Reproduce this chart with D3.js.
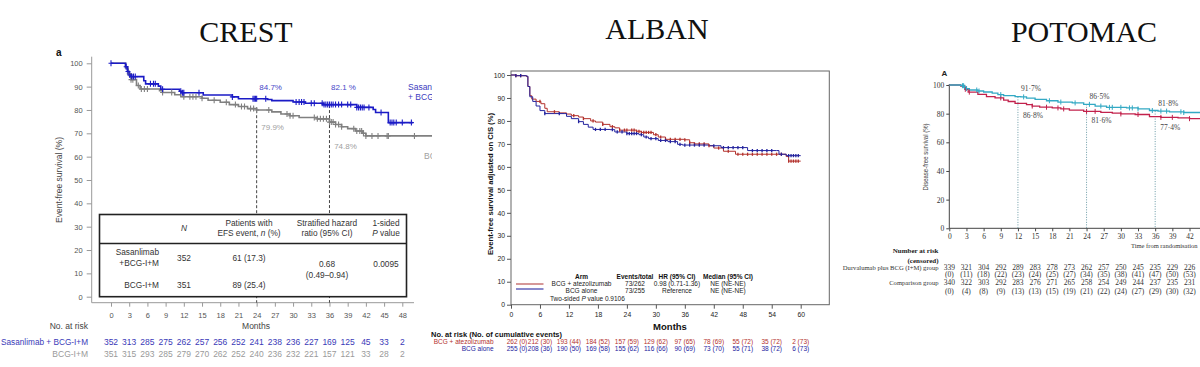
<!DOCTYPE html>
<html><head><meta charset="utf-8">
<script src="https://cdn.jsdelivr.net/npm/d3@7"></script>
<style>body{margin:0;background:#fff;}svg{display:block;}</style>
</head><body>
<svg id="c" width="1200" height="367"></svg>
<script>
// ---------------- DATA ----------------
const titles = ["CREST", "ALBAN", "POTOMAC"];

// CREST
const crestXTicks = [0,3,6,9,12,15,18,21,24,27,30,33,36,39,42,45,48];
const crestYTicks = [0,10,20,30,40,50,60,70,80,90,100];
const crestSas = [[0,100],[2.4,98.5],[2.7,96.5],[3.0,95],[3.4,94.3],[5.4,92.5],[5.7,91.2],[7.8,90.2],[8.2,88.9],[11.3,88.0],[11.6,87.4],[15.2,86.4],[20,85.6],[21,84.8],[25.8,84.5],[26.5,84.0],[30,83.4],[32,82.9],[35,82.3],[40.5,81.1],[43.2,80.2],[43.6,78.9],[45.7,74.6],[49.7,74.6]];
const crestBcg = [[0,100],[2.4,98],[2.8,95.5],[3.3,93],[4.2,90.5],[4.8,89],[8,88.3],[8.5,87.5],[10.5,86.5],[11.5,85.7],[15,85],[16,84.2],[18,83.3],[19.5,82.3],[21,81.5],[22.5,80.6],[24,80.0],[26.5,79.2],[28,78.3],[29.5,77.5],[31,76.8],[34,76.2],[36,74.8],[37,73.8],[38,72.8],[39,72],[40.3,71],[41.5,70],[42,68.9],[54,68.9]];
const crestSasCensor = [0,2.5,2.8,3.1,3.4,3.7,4,6.5,7,7.3,8.5,11.5,11.8,12,14.5,20,23.4,23.6,23.8,24,25.5,30.5,31,31.4,31.8,33,33.5,34.8,35.1,35.4,35.7,36,36.3,36.6,37,37.5,38,39,39.5,40.5,40.8,41.1,41.4,41.7,42.5,44.5,46,46.3,46.6,47,48,49.5];
const crestBcgCensor = [3,3.3,3.6,4.5,5,5.5,6,8.5,10,12,13,13.5,14,15,17,19,20.5,21.5,22,23,23.5,24,26,29,29.5,30,33.5,34,34.5,35,35.5,36,36.3,36.6,37,37.5,38,40,40.5,41,41.3,41.6,42,43,44,45.5,45.7,50];
const crestLandmarks = [24, 36];
const crestLandmarkTop = [79.9, 82.1];
const crestSasLabels = ["84.7%", "82.1 %"];
const crestBcgLabels = ["79.9%", "74.8%"];
const crestRiskSas = [352,313,285,275,262,257,256,252,241,238,236,227,169,125,45,33,2];
const crestRiskBcg = [351,315,293,285,279,270,262,252,240,236,232,221,157,121,33,28,2];

// ALBAN
const albanXTicks = [0,6,12,18,24,30,36,42,48,54,60];
const albanYTicks = [0,10,20,30,40,50,60,70,80,90,100];
const albanAtezo = [[0,100],[1,99.7],[3.2,99.3],[3.5,95],[3.9,91],[4.3,89.5],[5.2,88.5],[6.2,87.5],[7,85.5],[7.5,84],[10,83.5],[11.5,83],[12.5,82.3],[14,81.7],[15,81],[16.5,80],[17.5,79.5],[19,78.5],[20.5,77.5],[21.5,77],[22.5,76],[26,75.5],[27,75],[29.5,74],[30.5,73],[32,72],[36,71.8],[37,70.5],[38,70],[41,69.2],[42,68.2],[44,66.8],[46.5,65.5],[56.5,65.5],[57,64.5],[57.5,62.5],[60,62.5]];
const albanBcg = [[0,100],[1,99.7],[3.2,99.5],[3.5,95],[3.9,90.5],[4.5,88.5],[5.2,86.5],[6,84.5],[7,83.2],[11,83.2],[11.5,82],[12.5,81],[14,79.7],[15,78.5],[16,77.3],[17,76.3],[20.5,76.2],[21.5,75.2],[24,74.5],[26.5,74],[27.5,73],[28.5,72.3],[30.5,71.5],[32.5,71],[34.5,69.8],[35.5,69.5],[41,69.2],[43.5,68.4],[49,67.1],[55,67.1],[55.5,65.5],[57,64.9],[60,64.9]];
const albanAtezoCensor = [1,2,6,9,13,15,17,19,21,22.5,23.5,24,25,25.5,26,26.5,27,27.5,28,28.5,29,30,31,32,33,34,35,36,37,38,39,40,41,43,45,47,48,49,50,51,52,53,54,55,56,57.5,58,58.5,59,59.5];
const albanBcgCensor = [1,2,7,10,14,17.5,18.5,19.5,21,22,23,24,24.5,25,25.5,26,27,28,29,30,31,32,33,34,35,36,37,38,39,40,42,44,45,46,47,48,50,51,52,53,54,56,57.5,58,58.5,59,59.5];
const albanRiskAtezo = ["262 (0)","212 (30)","193 (44)","184 (52)","157 (59)","129 (62)","97 (65)","78 (69)","55 (72)","35 (72)","2 (73)"];
const albanRiskBcg = ["255 (0)","208 (36)","190 (50)","169 (58)","155 (62)","116 (66)","90 (69)","73 (70)","55 (71)","38 (72)","6 (73)"];
const albanLegendHead = ["Arm","Events/total","HR (95% CI)","Median (95% CI)"];
const albanLegendAtezo = ["BCG + atezolizumab","73/262","0.98 (0.71-1.36)","NE (NE-NE)"];
const albanLegendBcg = ["BCG alone","73/255","Reference","NE (NE-NE)"];

// POTOMAC
const potoXTicks = [0,3,6,9,12,15,18,21,24,27,30,33,36,39,42];
const potoYTicks = [0,20,40,60,80,100];
const potoDurva = [[0,100],[2,99.5],[2.6,98.5],[3,97.5],[3.5,96.5],[5,95.8],[6,95.1],[7.5,94.3],[8.5,93.3],[9.5,92.6],[11.5,91.9],[12.5,91.7],[13.5,90.8],[15,90],[17,89],[19,88.1],[21.5,87.5],[23.5,86.5],[25.5,85.3],[27.5,84.4],[31,84],[33,83.3],[35,82.2],[36.5,81.8],[38.5,81.3],[41,80.8],[44,80.7]];
const potoComp = [[0,100],[2,99.3],[2.7,97],[3.3,95],[5,93.5],[6.5,91.9],[8,91],[9.5,89.5],[10.3,88.5],[11.5,87.2],[13.5,86.3],[14.5,85.3],[15.8,84.5],[18,84],[19.5,83.3],[21,82.5],[23.5,81.6],[26.5,80.9],[28.5,80.4],[30,79.8],[32.5,79.4],[35,77.9],[37,77.4],[40,77],[42,76.5],[44,76.1]];
const potoDurvaCensor = [2.3,2.5,2.7,3,4.8,5.2,9,13,17.5,19.5,22,24.5,26.5,28,28.5,30,31.5,32,33,35.5,37,38,40.5,41];
const potoCompCensor = [2.8,3.5,9,14.5,17,19,20,24,25.5,30,33,37,39,42];
const potoLandmarks = [12, 24, 36];
const potoDurvaLabels = ["91·7%", "86·5%", "81·8%"];
const potoCompLabels = ["86·8%", "81·6%", "77·4%"];
const potoLandmarkTop = [91.7, 86.5, 81.8];
const potoRiskDurva = [339,321,304,292,289,283,278,273,262,257,250,245,235,229,226];
const potoCensDurva = [0,11,18,22,23,24,25,27,34,35,38,41,47,50,53];
const potoRiskComp = [340,322,303,292,283,276,271,265,258,254,249,244,237,235,231];
const potoCensComp = [0,4,8,9,13,13,15,19,21,22,24,27,29,30,32];

// ---------------- DRAW ----------------
const svg = d3.select("#c");
const sans = "'Liberation Sans', Arial, Helvetica, sans-serif";
const serif = "'Liberation Serif', 'Times New Roman', serif";
const defs = svg.append("defs");

function stepAt(data, t) { let v = data[0][1]; for (const d of data) { if (d[0] <= t) v = d[1]; else break; } return v; }
function txt(g, x, y, s, o = {}) {
  const t = g.append("text").attr("x", x).attr("y", y).text(s)
    .attr("font-family", o.ff || sans).attr("font-size", o.fs || 8)
    .attr("fill", o.fill || "#333").attr("text-anchor", o.anchor || "start")
    .attr("dominant-baseline", "middle");
  if (o.fw) t.attr("font-weight", o.fw);
  if (o.fst) t.attr("font-style", o.fst);
  if (o.tl) t.attr("textLength", o.tl).attr("lengthAdjust", "spacingAndGlyphs");
  if (o.rot) t.attr("transform", `rotate(${o.rot},${x},${y})`);
  return t;
}

// Titles
const titleX = [246, 657, 1084], titleY = [42, 38.5, 42.3];
titles.forEach((t, i) => svg.append("text").attr("x", titleX[i]).attr("y", titleY[i])
  .attr("text-anchor", "middle").attr("font-family", serif).attr("font-size", 30).attr("fill", "#111").text(t));

// ===== CREST =====
(function () {
  defs.append("clipPath").attr("id", "clipC").append("rect").attr("x", 0).attr("y", 0).attr("width", 432).attr("height", 367);
  const g = svg.append("g").attr("clip-path", "url(#clipC)");
  const x = d3.scaleLinear().domain([0, 48]).range([111, 402.3]);
  const y = d3.scaleLinear().domain([0, 100]).range([296.7, 63.3]);
  const blue = "#1b1bc6", gray = "#808080";

  txt(g, 56, 53, "a", { fw: "bold", fs: 10, fill: "#111" });

  g.append("line").attr("x1", 91.7).attr("x2", 91.7).attr("y1", 56.7).attr("y2", 302.7).attr("stroke", "#999").attr("stroke-width", 1);
  g.append("line").attr("x1", 91.7).attr("x2", 414).attr("y1", 302.7).attr("y2", 302.7).attr("stroke", "#999").attr("stroke-width", 1);
  const ya = g.append("g").attr("transform", "translate(91.7,0)")
    .call(d3.axisLeft(y).tickValues(crestYTicks).tickSize(5).tickPadding(4).tickSizeOuter(0));
  ya.select(".domain").remove();
  ya.selectAll("line").attr("stroke", "#999");
  ya.selectAll("text").attr("font-family", sans).attr("font-size", 7.5).attr("fill", "#555");
  const xa = g.append("g").attr("transform", "translate(0,302.7)")
    .call(d3.axisBottom(x).tickValues(crestXTicks).tickSize(4).tickPadding(6).tickSizeOuter(0));
  xa.select(".domain").remove();
  xa.selectAll("line").attr("stroke", "#999");
  xa.selectAll("text").attr("font-family", sans).attr("font-size", 7.5).attr("fill", "#555");

  txt(g, 60, 180, "Event-free survival (%)", { rot: -90, anchor: "middle", fs: 8.5, fill: "#444" });
  txt(g, 256, 327, "Months", { anchor: "middle", fs: 8.5, fill: "#444" });
  txt(g, 88, 327, "No. at risk", { anchor: "end", fs: 8.5, fill: "#444" });

  crestLandmarks.forEach((m, i) => g.append("line").attr("x1", x(m)).attr("x2", x(m))
    .attr("y1", y(crestLandmarkTop[i])).attr("y2", 302.7).attr("stroke", "#444").attr("stroke-width", 1).attr("stroke-dasharray", "3,2"));

  const line = d3.line().x(d => x(d[0])).y(d => y(d[1])).curve(d3.curveStepAfter);
  g.append("path").datum(crestBcg).attr("d", line).attr("fill", "none").attr("stroke", gray).attr("stroke-width", 1.6);
  g.append("path").datum(crestSas).attr("d", line).attr("fill", "none").attr("stroke", blue).attr("stroke-width", 1.6);
  function cens(times, data, col) {
    times.forEach(t => {
      const cx = x(t), cy = y(stepAt(data, t));
      g.append("path").attr("d", `M${cx},${cy - 3}V${cy + 3}M${cx - 2.5},${cy}H${cx + 2.5}`).attr("stroke", col).attr("stroke-width", 1.1);
    });
  }
  cens(crestBcgCensor, crestBcg, gray);
  cens(crestSasCensor, crestSas, blue);

  crestLandmarks.forEach((m, i) => {
    txt(g, x(m) + 14, 87.5, crestSasLabels[i], { anchor: "middle", fs: 8, fill: "#4646c8" });
    txt(g, x(m) + 16, i === 0 ? 127.7 : 146.7, crestBcgLabels[i], { anchor: "middle", fs: 8, fill: "#a0a0a0" });
  });
  txt(g, 408, 88, "Sasanlimab", { fs: 8.5, fill: "#3c3cc0" });
  txt(g, 408, 98, "+ BCG-I+M", { fs: 8.5, fill: "#3c3cc0" });
  txt(g, 424, 157, "BCG-I+M", { fs: 8.5, fill: "#a0a0a0" });

  // table
  g.append("rect").attr("x", 99.5).attr("y", 214.5).attr("width", 307).attr("height", 82.2)
    .attr("fill", "#fff").attr("stroke", "#222").attr("stroke-width", 1.6);
  g.append("line").attr("x1", 99.5).attr("x2", 406.5).attr("y1", 243.5).attr("y2", 243.5).attr("stroke", "#222").attr("stroke-width", 1.3);
  const tc = "#333", tf = 8.3;
  txt(g, 184, 229, "N", { anchor: "middle", fs: tf, fill: tc, fst: "italic" });
  txt(g, 249, 224, "Patients with", { anchor: "middle", fs: tf, fill: tc });
  const t1 = txt(g, 249, 234, "EFS event, ", { anchor: "middle", fs: tf, fill: tc });
  t1.append("tspan").attr("font-style", "italic").text("n");
  t1.append("tspan").text(" (%)");
  txt(g, 327, 224, "Stratified hazard", { anchor: "middle", fs: tf, fill: tc });
  txt(g, 327, 234, "ratio (95% CI)", { anchor: "middle", fs: tf, fill: tc });
  txt(g, 386, 224, "1-sided", { anchor: "middle", fs: tf, fill: tc });
  const t2 = txt(g, 386, 234, "", { anchor: "middle", fs: tf, fill: tc });
  t2.append("tspan").attr("font-style", "italic").text("P");
  t2.append("tspan").text(" value");
  txt(g, 159, 253, "Sasanlimab", { anchor: "end", fs: tf, fill: tc });
  txt(g, 159, 264, "+BCG-I+M", { anchor: "end", fs: tf, fill: tc });
  txt(g, 184, 259, "352", { anchor: "middle", fs: tf, fill: tc });
  txt(g, 249, 259, "61 (17.3)", { anchor: "middle", fs: tf, fill: tc });
  txt(g, 327, 265, "0.68", { anchor: "middle", fs: tf, fill: tc });
  txt(g, 327, 275.5, "(0.49–0.94)", { anchor: "middle", fs: tf, fill: tc });
  txt(g, 386, 265, "0.0095", { anchor: "middle", fs: tf, fill: tc });
  txt(g, 159, 285.5, "BCG-I+M", { anchor: "end", fs: tf, fill: tc });
  txt(g, 184, 285.5, "351", { anchor: "middle", fs: tf, fill: tc });
  txt(g, 249, 285.5, "89 (25.4)", { anchor: "middle", fs: tf, fill: tc });

  // risk table
  txt(g, 1, 342.5, "Sasanlimab + BCG-I+M", { fs: 8.5, fill: "#3a3ab8", tl: 87 });
  txt(g, 88, 354.5, "BCG-I+M", { anchor: "end", fs: 8.5, fill: "#9a9a9a" });
  crestXTicks.forEach((m, i) => {
    txt(g, x(m), 342.5, crestRiskSas[i], { anchor: "middle", fs: 8.5, fill: "#3a3ab8" });
    txt(g, x(m), 354.5, crestRiskBcg[i], { anchor: "middle", fs: 8.5, fill: "#9a9a9a" });
  });
})();

// ===== ALBAN =====
(function () {
  const g = svg.append("g");
  const x = d3.scaleLinear().domain([0, 60]).range([511, 800.7]);
  const y = d3.scaleLinear().domain([0, 100]).range([304.7, 75]);
  const red = "#b3312c", blue = "#23239e";
  g.append("rect").attr("x", 511).attr("y", 71).attr("width", 318.3).attr("height", 233.7)
    .attr("fill", "none").attr("stroke", "#666").attr("stroke-width", 1);
  const ya = g.append("g").attr("transform", "translate(511,0)")
    .call(d3.axisLeft(y).tickValues(albanYTicks).tickSize(4).tickPadding(2).tickSizeOuter(0));
  ya.select(".domain").remove();
  ya.selectAll("line").attr("stroke", "#555");
  ya.selectAll("text").attr("font-family", sans).attr("font-size", 6.8).attr("fill", "#222");
  const xa = g.append("g").attr("transform", "translate(0,304.7)")
    .call(d3.axisBottom(x).tickValues(albanXTicks).tickSize(4).tickPadding(3).tickSizeOuter(0));
  xa.select(".domain").remove();
  xa.selectAll("line").attr("stroke", "#555");
  xa.selectAll("text").attr("font-family", sans).attr("font-size", 6.8).attr("fill", "#222");

  txt(g, 490.7, 184, "Event-free survival adjusted on CIS (%)", { rot: -90, anchor: "middle", fs: 8, fw: "bold", fill: "#111", tl: 142 });
  txt(g, 670, 327, "Months", { anchor: "middle", fs: 9.5, fw: "bold", fill: "#111" });

  const line = d3.line().x(d => x(d[0])).y(d => y(d[1])).curve(d3.curveStepAfter);
  g.append("path").datum(albanAtezo).attr("d", line).attr("fill", "none").attr("stroke", red).attr("stroke-width", 1);
  g.append("path").datum(albanBcg).attr("d", line).attr("fill", "none").attr("stroke", blue).attr("stroke-width", 1);
  function cens(times, data, col) {
    times.forEach(t => {
      const cx = x(t), cy = y(stepAt(data, t));
      g.append("path").attr("d", `M${cx},${cy - 1.6}V${cy + 1.6}`).attr("stroke", col).attr("stroke-width", 1.3);
    });
  }
  cens(albanAtezoCensor, albanAtezo, red);
  cens(albanBcgCensor, albanBcg, blue);

  const colX = [581.5, 635, 677, 728];
  const lf = 6.5;
  albanLegendHead.forEach((s, i) => txt(g, colX[i], 277, s, { anchor: "middle", fs: lf, fw: "bold", fill: "#111" }));
  albanLegendAtezo.forEach((s, i) => txt(g, colX[i], 284.3, s, { anchor: "middle", fs: lf, fill: "#222" }));
  albanLegendBcg.forEach((s, i) => txt(g, colX[i], 291.7, s, { anchor: "middle", fs: lf, fill: "#222" }));
  g.append("line").attr("x1", 516).attr("x2", 543.5).attr("y1", 284).attr("y2", 284).attr("stroke", "#c06060").attr("stroke-width", 1.3);
  g.append("line").attr("x1", 516).attr("x2", 543.5).attr("y1", 289).attr("y2", 289).attr("stroke", "#4a4ab0").attr("stroke-width", 1.3);
  const pv = txt(g, 550, 299.3, "Two-sided ", { fs: lf, fill: "#222" });
  pv.append("tspan").attr("font-style", "italic").text("P");
  pv.append("tspan").text(" value 0.9106");

  txt(g, 431, 335, "No. at risk (No. of cumulative events)", { fs: 7.5, fw: "bold", fill: "#111", tl: 131 });
  txt(g, 493.5, 342.7, "BCG + atezolizumab", { anchor: "end", fs: lf, fill: red });
  txt(g, 493.5, 349.5, "BCG alone", { anchor: "end", fs: lf, fill: blue });
  albanXTicks.forEach((m, i) => {
    const dx = i === 0 ? 6 : 0;
    txt(g, x(m) + dx, 342.7, albanRiskAtezo[i], { anchor: "middle", fs: lf, fill: red });
    txt(g, x(m) + dx, 349.5, albanRiskBcg[i], { anchor: "middle", fs: lf, fill: blue });
  });
})();

// ===== POTOMAC =====
(function () {
  const g = svg.append("g");
  const x = d3.scaleLinear().domain([0, 42]).range([949.3, 1189.5]);
  const y = d3.scaleLinear().domain([0, 100]).range([228.3, 85]);
  const teal = "#33a9c4", crim = "#c2224c";
  txt(g, 941.5, 73.5, "A", { fs: 8, fw: "bold", fill: "#222" });
  g.append("line").attr("x1", 949.3).attr("x2", 949.3).attr("y1", 84).attr("y2", 228.3).attr("stroke", "#444");
  g.append("line").attr("x1", 949.3).attr("x2", 1200).attr("y1", 228.3).attr("y2", 228.3).attr("stroke", "#444");
  const ya = g.append("g").attr("transform", "translate(949.3,0)")
    .call(d3.axisLeft(y).tickValues(potoYTicks).tickSize(3).tickPadding(2).tickSizeOuter(0));
  ya.select(".domain").remove();
  ya.selectAll("line").attr("stroke", "#444");
  ya.selectAll("text").attr("font-family", serif).attr("font-size", 7.5).attr("fill", "#333");
  const xa = g.append("g").attr("transform", "translate(0,228.3)")
    .call(d3.axisBottom(x).tickValues(potoXTicks).tickSize(3).tickPadding(2).tickSizeOuter(0));
  xa.select(".domain").remove();
  xa.selectAll("line").attr("stroke", "#444");
  xa.selectAll("text").attr("font-family", serif).attr("font-size", 7.5).attr("fill", "#333");

  txt(g, 926.7, 157, "Disease-free survival (%)", { rot: -90, anchor: "middle", fs: 6.5, fill: "#444", tl: 67 });
  txt(g, 1131, 247, "Time from randomisation", { fs: 6.5, ff: serif, fill: "#333" });

  potoLandmarks.forEach((m, i) => g.append("line").attr("x1", x(m)).attr("x2", x(m))
    .attr("y1", y(potoLandmarkTop[i])).attr("y2", 228.3).attr("stroke", "#6a9aa5").attr("stroke-width", 1).attr("stroke-dasharray", "1,1.5"));

  const line = d3.line().x(d => x(d[0])).y(d => y(d[1])).curve(d3.curveStepAfter);
  g.append("path").datum(potoComp).attr("d", line).attr("fill", "none").attr("stroke", crim).attr("stroke-width", 1.3);
  g.append("path").datum(potoDurva).attr("d", line).attr("fill", "none").attr("stroke", teal).attr("stroke-width", 1.3);
  function cens(times, data, col) {
    times.forEach(t => {
      const cx = x(t), cy = y(stepAt(data, t));
      g.append("path").attr("d", `M${cx},${cy - 2.5}V${cy + 2.5}`).attr("stroke", col).attr("stroke-width", 1);
    });
  }
  cens(potoCompCensor, potoComp, crim);
  cens(potoDurvaCensor, potoDurva, teal);

  const dY = [89, 97.3, 104], cY = [116.7, 121.7, 128.3];
  potoLandmarks.forEach((m, i) => {
    txt(g, x(m) + 3, dY[i], potoDurvaLabels[i], { fs: 7.5, ff: serif, fill: "#444" });
    txt(g, x(m) + 5, cY[i], potoCompLabels[i], { fs: 7.5, ff: serif, fill: "#444" });
  });

  txt(g, 938.5, 251.7, "Number at risk", { anchor: "end", fs: 7, ff: serif, fw: "bold", fill: "#222" });
  txt(g, 938.5, 261, "(censored)", { anchor: "end", fs: 7, ff: serif, fw: "bold", fill: "#222" });
  txt(g, 938.5, 268.3, "Durvalumab plus BCG (I+M) group", { anchor: "end", fs: 6.6, ff: serif, fill: "#333" });
  txt(g, 938.5, 283.3, "Comparison group", { anchor: "end", fs: 6.6, ff: serif, fill: "#333" });
  potoXTicks.forEach((m, i) => {
    txt(g, x(m), 268.3, potoRiskDurva[i], { anchor: "middle", fs: 7.5, ff: serif, fill: "#333" });
    txt(g, x(m), 275.7, `(${potoCensDurva[i]})`, { anchor: "middle", fs: 7.5, ff: serif, fill: "#333" });
    txt(g, x(m), 283.3, potoRiskComp[i], { anchor: "middle", fs: 7.5, ff: serif, fill: "#333" });
    txt(g, x(m), 292.7, `(${potoCensComp[i]})`, { anchor: "middle", fs: 7.5, ff: serif, fill: "#333" });
  });
})();
</script>
</body></html>
